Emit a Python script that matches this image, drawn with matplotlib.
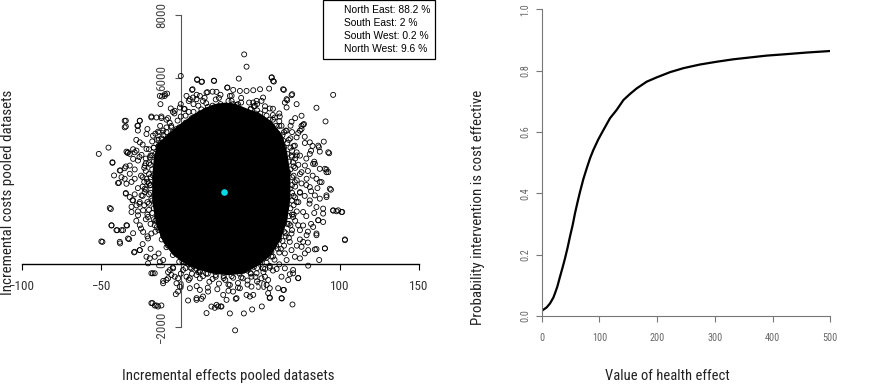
import matplotlib
matplotlib.use("Agg")
import matplotlib.pyplot as plt
from matplotlib.lines import Line2D

NARROW = ["Liberation Sans Narrow", "Roboto Condensed", "Liberation Sans", "DejaVu Sans"]
plt.rcParams["font.family"] = NARROW

# bootstrap cloud: individually readable points (incremental effect, incremental cost)
cloud_x = [
    39.9, 41.4, 0, 10.3, 13.4, 21, 36.5, 57.3, 58.6, 95.9, 29.4, 7.1, 16.8, 22.5, 64.9, 70.1, 85.4, 91.1, 76, 67, 66.6, -10, -11.8,
    -34.6, -35.3, -25.8, -27.3, -18.5, -12.2, -45.5, -51.6, -43, -33.6, -38, -42, -34.6, -39.5, -34.6, -30.4, -44, -43.6, -40, -36.3,
    -33.8, -50, -38.2, -32.5, -29.4, -25.8, -21.6, -17.6, -17.8, -15.3, -12.2, -11.1, -9,
    4.6, 9.9, 13, 16.2, 21.4, 23.5, 25.2, 30.9, 34.2, 34.6, 39.7, 44.9, 51, 56, 63.6, 70.3, 64.9, 73.9, 70.7, 80.2, 87.1,
    103.3, 101.6, 98, 95.9, 90.7, 84.4, 94.5, 91.7, 92.8, 90.7, 93.4, 90, 86.9, 82.9, 89.6, 85.4, 86.5, 87.5, 84.4, 77.5, 75,
    # upper left band
    10.3, 13, 20.8, 7.4, 16.2, -8.6, -10.1, -13.2, -12.8, -6.3, 3.6, 5.7, 7.7, 9.9, 12, -0.6, 2.5, -3.8, -18.5, -15.3, -12.2,
    -35.3, -34.6, -25.8, -26.9, -25.8, -21.6, -17.5, -14.3, -9, -5.9, -2.7,
    # upper right band
    57.1, 58.1, 29.2, 33, 37.2, 41.4, 45.6, 49.9, 55.6, 64.4, 66.6, 65.5, 69.7, 72.9, 51.8, 50.8, 47.7, 45.6, 46.6, 56, 62.3, 59.2,
    69.7, 69.1, 76, 77, 73.9, 72.9, 81.2, 78.1, 66.6, 63.4, 61.3, 64.5, 30.9, 33, 28.8, 35.1,
    # left band
    -43, -38.4, -35.3, -32.1, -37.3, -35.3, -34.2, -38.9, -32.1, -29, -32.1, -29, -34.2, -44.7,
    -34.6, -32.1, -30, -27.9, -31, -26.9, -23.7, -25.8, -24.7, -22.7, -43.6, -40.5, -37.3, -34.2, -33.2, -38.4, -49.3,
    -25.8, -23.7, -20.6, -18.5, -16.4, -33.2, -27.9, -24.7, -21.6, -19.5, -22.7, -26.9, -30,
    -21.6, -19.5, -22.7, -17.4, -15.3, -18.5, -15.3, -20.6, -15.3, -12.2, -9,
    -28, -24, -30, -26, -22, -29, -25, -31, -27, -23, -29, -26, -31, -27, -22, -28, -25, -30, -21, -24, -19, -14, -27, -21,
    # right band
    87.5, 92.8, 86.5, 81.2, 83.3, 87.5, 91.7, 85.4, 88.6, 91.7, 93.8, 91.7, 87.5, 84.4, 81.2, 85.4, 89.6, 95.9, 101.2, 99.1,
    89.6, 86.5, 83.3, 85.4, 103.3, 79.2, 75, 77, 81.2, 79.2, 78.1, 75,
    72.9, 70.7, 76, 71.8, 75, 72.9, 77, 70.7, 73.9, 69.7, 68.6, 71.8, 68.6, 67.6, 66.6, 69.7,
    78, 82, 79, 84, 80, 83, 79, 82, 86, 78, 81, 84, 79, 82, 77, 80, 75, 73, 80, 76, 72, 70,
    # top band
    0, 5, 10, 15, 20, 25, 32, 38, 43, 48, 53, 58, 62, -5, -8,
    # lower left band
    -25.8, -29, -19.5, -16.4, -20.6, -13.2, -11.1, -16.4, -18.5,
    -11.1, -8, -5.9, -3.8, -1.7, -2.7, -0.6, -1.7, -3.1, -6.9, -4.8, 1.4, 3.6, 5.7, 9.9, 6.7, 12,
    9.9, 14, 19.3, 22.5, 17.2, 12, 5.7, -18.5, -16.4, -14.3,
    # lower right band
    73.9, 67.6, 68.6, 63.4, 70.7, 65.5, 60.3, 56, 51.8, 55, 56, 55, 56, 54, 50.8, 47.7, 44.5, 44.5, 45.6, 43.5,
    63.4, 64.5, 61.3, 35.1, 28.8, 26.7, 25.6, 32.9, 37.2, 41.4, 30.9,
    78.1, 80.2, 85.4, 90.7, 76, 71.8, 75, 69.7, 65.5, 66.6,
    # bottom band
    0, 5, 10, 17, 23, 30, 36, 42, 48, 53, 58, 62, -5, -8,
    # dense fringe round the solid core
    20, 24, 28, 33, 37, 42, 47, 51, 55, 58, 61, 63, 65, 67, 68, 69, 70, 70, 70, 70, 69, 68, 67, 65, 62, 60, 57, 54, 50, 46,
    42, 37, 32, 27, 22, 17, 12, 8, 4, 0, -4, -7, -10, -13, -15, -17, -18, -19, -19, -19, -18, -17, -16, -14, -12, -9, -6, -2,
    3, 8, 13, 17,
    22, 30, 38, 46, 53, 58, 62, 66, 69, 71, 73, 74, 75, 76, 75, 74, 73, 72, 70, 68, 65, 62, 59, 56, 52, 47, 42, 36, 30, 24,
    18, 12, 7, 3, -1, -5, -9, -12, -16, -19, -21, -23, -24, -24, -24, -23, -22, -20, -18, -16, -13, -9, -4, 2, 8, 14,
    25, 35, 44, 50, 56, 60, 64, 67, 70, 72, 72, 73, 72, 71, 69, 66, 63, 57, 53, 44, 39, 28, 20, 14, 10, 5, 1, -3, -8, -11,
    -15, -17, -20, -21, -22, -21, -22, -20, -19, -17, -15, -11, -7, 0, 5, 11, 16,
    24, 32, 36, 44, 48, 54, 58, 62, 65, 68, 69, 70, 71, 71, 72, 71, 71, 70, 68, 66, 64, 61, 58, 54,
    48, 44, 38, 33, 27, 22, 16, 11, 6, 1, -4, -8, -11, -14, -16, -18, -20, -20, -20, -20, -19, -18, -17, -14, -11,
    -5, -1, 3, 7, 12, 16, 20,
]
cloud_y = [
    6748, 6353, 6055, 5927, 5874, 5895, 5970, 6012, 5874, 5447, 5682, 5607, 5533, 5543, 5607, 5469, 5032, 4594, 4776, 5277, 5042, 5469, 5394,
    4616, 4403, 4616, 4456, 4722, 4701, 3752, 3550, 3262, 3582, 3017, 2857, 3145, 2612, 2292, 2057, 1780, 1247, 1098, 1098,
    1247, 736, 672, 810, 384, 458, 245, -288, -1247, -1322, -1322, -608, -501,
    -1162, -1141, -1109, -1567, -1397, -1354, -1354, -1578, -2121, -1109, -1578, -1450, -1354, -1066, -1098, -1290, -821, -437, -288, -43, 139,
    800, 1684, 1706, 1727, 512, 480, 2399, 2217, 2964, 3070, 3571, 3944, 3763, 3806, 1631, 991, 1418, 2644, 3230, 4509, 4296,
    5948, 5862, 5904, 5628, 5520, 5488, 5414, 5414, 5149, 5010, 5414, 5309, 5360, 5309, 5414, 5040, 4989, 4934, 4752, 4720, 4752,
    4614, 4432, 4614, 4455, 3921, 4189, 4135, 4263, 4400, 4400, 4349,
    6000, 5894, 5680, 5606, 5574, 5574, 5596, 5628, 5648, 5628, 5309, 5200, 5437, 5149, 5360, 5254, 5254, 5200, 5094, 5010, 4752, 4720,
    4583, 4455, 4349, 4487, 4221, 4081, 3921, 3901, 4295, 4455, 4135, 3975, 5414, 5149, 4989, 4775,
    3281, 3016, 3089, 3175, 2801, 2750, 2590, 2622, 2910, 2750, 3550, 3601, 3623, 1810,
    2271, 2162, 2056, 1896, 1682, 1577, 1736, 2002, 2216, 2430, 1257, 1097, 1097, 1257, 831, 723, 723,
    1257, 1043, 831, 991, 1257, 3601, 3655, 3518, 3710, 3441, 3176, 3335, 3390,
    2750, 2536, 2322, 2856, 2430, 2111, 1896, 1522, 1417, 1151, 937,
    4000, 3850, 3700, 3450, 3250, 3050, 2850, 2650, 2450, 2650, 2250, 1950, 1850, 1700, 1450, 1400, 1150, 1000, 900, 650,
    500, 350, 4300, 4350,
    3623, 3601, 3815, 3550, 3230, 3070, 3048, 2750, 2642, 2962, 2430, 2162, 2111, 2216, 2056, 1842, 1791, 1736, 1682, 1736,
    1362, 1417, 1202, 937, 777, 937, 1097, 723, 2482, 2750, 3176, 3495,
    3601, 3281, 2962, 2642, 2322, 2002, 1682, 1522, 1257, 991, 723, 3815, 2430, 2962, 1896, 3495,
    4100, 3650, 3400, 3300, 3000, 2850, 2550, 2350, 2450, 2200, 1950, 1650, 1550, 1300, 1250, 1050, 800, 600, 700, 4450,
    4700, 4250,
    5150, 5250, 5450, 5350, 5550, 5450, 5420, 5350, 5200, 5150, 5080, 5000, 4850, 4900, 4700,
    457, 403, 192, 243, 32, 83, 138, -288, -288,
    -534, -448, -342, -397, -448, -608, -716, -876, -959, -182, -128, -182, -397, -448, -342, -128, -237,
    -1087, -1036, -1356, -1302, -876, -822, -768, -1247, -1324, -1356,
    -448, -502, -320, -397, -182, -128, -150, -109, -128, -502, -768, -927, -1087, -662, -448, -288, -397, -716, -982, -1036,
    -1087, -822, -768, -1087, -1142, -982, -1356, -876, -768, -982, -662,
    352, 457, 489, 512, 563, 243, 192, 457, 352, 138,
    -300, -500, -700, -750, -800, -850, -750, -650, -550, -400, -200, 0, -100, -250,
    # dense fringe round the solid core
    5000, 5080, 5020, 5060, 4980, 4900, 4850, 4700, 4560, 4380, 4200, 3980, 3750, 3550, 3300, 3050, 2800, 2550, 2300, 2050,
    1800, 1550, 1300, 1050, 800, 600, 400, 220, 60, -80,
    -200, -300, -380, -380, -340, -300, -200, -60, 120, 330, 560, 800, 1050, 1300, 1550, 1800, 2050, 2300, 2550, 2800, 3050,
    3300, 3550, 3800, 4050, 4250, 4450, 4620,
    4780, 4900, 4980, 5060,
    5300, 5250, 5200, 5080, 4950, 4800, 4600, 4300, 4050, 3800, 3500, 3200, 2900, 2600, 2300, 2000, 1700, 1400, 1100, 850,
    600, 380, 150, -50, -250, -400, -520, -600, -650, -620,
    -560, -450, -300, -120, 80, 300, 550, 800, 1050, 1300, 1600, 1900, 2200, 2500, 2800, 3100, 3400, 3700, 3950, 4200,
    4450, 4650, 4850, 5000, 5150, 5250,
    5150, 5120, 4980, 4850, 4650, 4450, 4150, 3900, 3650, 3400, 3100, 2700, 2150, 1600, 1250, 900, 500, 250, -150, -300,
    -450, -500, -470, -380, -150, 0, 200, 450, 700, 950,
    1200, 1450, 1750, 2000, 2400, 2650, 3000, 3250, 3500, 3750, 4000, 4300, 4550, 4750, 4900, 5100, 5180,
    5350, 5250, 5150, 5000, 4950, 4780, 4650, 4450, 4250, 4000, 3750, 3450, 3150, 2850, 2500, 2200, 1900, 1600, 1300, 1000,
    750, 500, 250, 50,
    -120, -280, -420, -430, -440, -400, -300, -250, -100, 100, 400, 600, 900, 1100, 1400, 1650, 1950, 2250, 2600, 2900,
    3200, 3500, 3750, 4000, 4150,
    4250, 4400, 4550, 4700, 4850, 4950, 5100,
]

# outline of the region where the points overlap into solid black
core_x = [28, 35, 42, 50, 58, 64, 67, 69, 69, 67, 63, 57, 50, 40, 30, 20, 10, 3, -5, -11, -15, -18, -18, -17, -15, -9,
          -2, 6, 14, 21]
core_y = [5200, 5150, 5000, 4850, 4550, 4150, 3600, 2900, 2100, 1400, 800, 300, 0, -300, -350, -300, -150, 0, 300, 700,
          1200, 2000, 2800, 3400, 3850, 4150, 4450, 4750, 5000, 5150]

mean_effect = [27.1]
mean_cost = [2322]

quadrants = ["North East: 88.2 %", "South East: 2 %", "South West: 0.2 %", "North West: 9.6 %"]

# acceptability curve
wtp = [0, 1.7, 8.6, 14.4, 20.2, 23, 27.1, 31.7, 36.3, 40.4, 45, 49, 53.7, 57.7, 62.3, 66.4, 72.1, 77.9, 83.7, 89.4, 98.1,
       106.8, 118.4, 129.9, 141.5, 153, 164.5, 181.9, 199.2, 222.3, 245.4, 274.2, 303.1, 332, 360.9, 389.7, 418.6, 459, 500]
prob_ce = [0.016, 0.019, 0.028, 0.041, 0.060, 0.074, 0.096, 0.128, 0.159, 0.188, 0.224, 0.259, 0.297, 0.335, 0.373, 0.405,
           0.446, 0.481, 0.514, 0.541, 0.576, 0.606, 0.645, 0.672, 0.704, 0.724, 0.742, 0.764, 0.778, 0.795, 0.808, 0.820,
           0.829, 0.837, 0.843, 0.849, 0.853, 0.859, 0.864]

W, H = 873, 385
fig = plt.figure(figsize=(W / 100, H / 100), dpi=100)
renderer = fig.canvas.get_renderer()


def size_for(text, target_px, family=NARROW, size0=10):
    # font size at which `text` spans target_px pixels along its baseline
    t = fig.text(0, 0, text, fontsize=size0, family=family)
    w = t.get_window_extent(renderer).width
    t.remove()
    return size0 * target_px / w


left_tick_size = size_for("100", 19)
right_tick_size = size_for("100", 14.7)
legend_size = size_for(quadrants[0], 86, family=["Liberation Sans", "DejaVu Sans"])

# ---- left: cost-effectiveness plane ----
ax1 = fig.add_axes([6 / W, 46 / H, 429 / W, 336 / H])
ax1.set_xlim(-110, 160)
ax1.set_ylim(-2400, 8400)
for side in ("top", "right"):
    ax1.spines[side].set_visible(False)
ax1.spines["left"].set_position(("data", 0))
ax1.spines["bottom"].set_position(("data", 0))
ax1.spines["left"].set_bounds(-2000, 8000)
ax1.spines["bottom"].set_bounds(-100, 150)
ax1.spines["left"].set_color("#555555")
ax1.spines["left"].set_linewidth(0.8)
ax1.spines["bottom"].set_linewidth(1.0)
ax1.set_xticks([-100, -50, 0, 50, 100, 150])
ax1.set_yticks([-2000, 0, 2000, 4000, 6000, 8000])
ax1.tick_params(axis="x", direction="out", length=4, width=0.8, pad=7, labelsize=left_tick_size, labelcolor="#333333")
ax1.tick_params(axis="y", direction="out", length=4, width=0.8, pad=5, labelsize=left_tick_size, labelcolor="#444444",
                color="#555555")
for t in ax1.get_yticklabels():
    t.set_rotation(90)
    t.set_va("center")

ax1.fill(core_x, core_y, color="black", lw=0, zorder=3)
ax1.scatter(cloud_x, cloud_y, s=13, facecolors="none", edgecolors="black", linewidths=0.6, zorder=3)
ax1.scatter(mean_effect, mean_cost, s=14, color="#00dde6", zorder=4)

handles = [Line2D([], [], linestyle="none") for _ in quadrants]
leg = ax1.legend(handles, quadrants, loc="upper right", bbox_to_anchor=(1.0, 1.01), borderaxespad=0,
                 fancybox=False, edgecolor="black", framealpha=1, handlelength=1.0,
                 handletextpad=0.5, borderpad=0.5, labelspacing=0.3,
                 prop={"family": ["Liberation Sans", "DejaVu Sans"], "size": legend_size})
leg.get_frame().set_linewidth(0.9)
leg.set_zorder(5)

fig.text(228 / W, 1 - 376 / H, "Incremental effects pooled datasets", ha="center", va="center",
         fontsize=size_for("Incremental effects pooled datasets", 210), color="#222222")
fig.text(8 / W, 1 - 192 / H, "Incremental costs pooled datasets", ha="center", va="center", rotation=90,
         fontsize=size_for("Incremental costs pooled datasets", 203), color="#222222")

# ---- right: acceptability curve ----
ax2 = fig.add_axes([541.7 / W, 69 / H, 288.6 / W, 306.7 / H])
ax2.plot(wtp, prob_ce, color="black", lw=1.6, solid_capstyle="round", solid_joinstyle="round")
ax2.set_xlim(0, 500)
ax2.set_ylim(0, 1)
for side in ("top", "right"):
    ax2.spines[side].set_visible(False)
for side in ("left", "bottom"):
    ax2.spines[side].set_color("#777777")
    ax2.spines[side].set_linewidth(0.8)
ax2.set_xticks([0, 100, 200, 300, 400, 500])
ax2.set_yticks([0.0, 0.2, 0.4, 0.6, 0.8, 1.0])
ax2.set_yticklabels(["0.0", "0.2", "0.4", "0.6", "0.8", "1.0"])
ax2.tick_params(direction="out", length=4, width=0.8, color="#777777", labelcolor="#666666", labelsize=right_tick_size)
ax2.tick_params(axis="x", pad=8)
ax2.tick_params(axis="y", pad=4)
for t in ax2.get_yticklabels():
    t.set_rotation(90)
    t.set_va("center")

fig.text(667 / W, 1 - 376 / H, "Value of health effect", ha="center", va="center",
         fontsize=size_for("Value of health effect", 123), color="#222222")
fig.text(478 / W, 1 - 207 / H, "Probability intervention is cost effective", ha="center", va="center",
         rotation=90, fontsize=size_for("Probability intervention is cost effective", 233), color="#222222")

fig.savefig("out.png", dpi=100)
